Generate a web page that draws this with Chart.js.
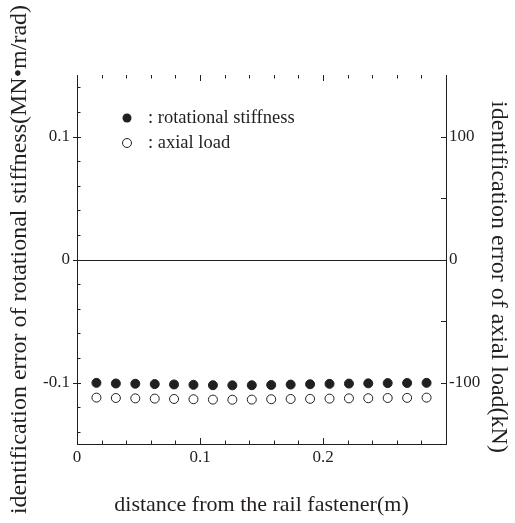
<!DOCTYPE html>
<html>
<head>
<meta charset="utf-8">
<script src="https://cdn.jsdelivr.net/npm/chart.js@4"></script>
<style>
  html, body { margin: 0; padding: 0; background: #fff; }
  #wrap { width: 515px; height: 523px; }
</style>
</head>
<body>
<div id="wrap"><canvas id="chart"></canvas></div>
<script>
// distance from the rail fastener (m)
const distances = [0.0158, 0.0316, 0.0474, 0.0632, 0.0789, 0.0947, 0.1105, 0.1263, 0.1421,
                   0.1579, 0.1737, 0.1895, 0.2053, 0.2211, 0.2368, 0.2526, 0.2684, 0.2842];
// identification error of rotational stiffness (MN·m/rad)
const stiffnessError = [-0.1003, -0.1008, -0.1010, -0.1013, -0.1016, -0.1019, -0.1022, -0.1023, -0.1022,
                        -0.1020, -0.1017, -0.1014, -0.1011, -0.1009, -0.1007, -0.1005, -0.1004, -0.1003];
// identification error of axial load (kN)
const axialLoadError = [-112.3, -112.6, -112.9, -113.1, -113.4, -113.6, -113.9, -114.0, -113.9,
                        -113.6, -113.4, -113.3, -113.1, -112.9, -112.8, -112.6, -112.5, -112.3];

const xTickValues = [0, 0.1, 0.2];
const yTickValues = [-0.1, 0, 0.1];
const y2TickValues = [-100, 0, 100];

const ink = "#231f20";
const serif = "'Liberation Serif', 'DejaVu Serif', serif";
const rightTitle = "identification error of axial load(kN)";

// inward tick marks, zero line, legend and the right-hand title
const frame = {
  id: "frame",
  afterDatasetsDraw(chart) {
    const c = chart.ctx;
    const a = chart.chartArea;
    const { x, y, y2 } = chart.scales;
    c.save();
    c.strokeStyle = ink;
    c.lineWidth = 1;

    c.beginPath();
    const y0 = Math.round(y.getPixelForValue(0)) + 0.5;
    c.moveTo(a.left, y0);
    c.lineTo(a.right, y0);

    for (let i = 1; i < 15; i++) {
      const px = Math.round(x.getPixelForValue(i * 0.02)) + 0.5;
      const len = i % 5 === 0 ? 6 : 3.5;
      c.moveTo(px, a.bottom); c.lineTo(px, a.bottom - len);
      c.moveTo(px, a.top); c.lineTo(px, a.top + len);
    }
    for (let i = -7; i <= 7; i++) {
      const py = Math.round(y.getPixelForValue(i * 0.02)) + 0.5;
      if (i % 5 === 0) { c.moveTo(a.left - 4, py); c.lineTo(a.left + 4, py); }
      else { c.moveTo(a.left, py); c.lineTo(a.left + 3.5, py); }
    }
    for (let i = -2; i <= 2; i++) {
      const py = Math.round(y2.getPixelForValue(i * 50)) + 0.5;
      c.moveTo(a.right, py); c.lineTo(a.right - 5, py);
    }
    c.stroke();

    // legend
    const lx = a.left + 50, ly = a.top + 43;
    c.fillStyle = ink;
    c.beginPath(); c.arc(lx, ly, 4.5, 0, Math.PI * 2); c.fill();
    c.beginPath(); c.arc(lx, ly + 25, 4.5, 0, Math.PI * 2); c.stroke();
    c.font = "18.5px " + serif;
    c.textBaseline = "middle";
    c.fillText(": rotational stiffness", lx + 21, ly);
    c.fillText(": axial load", lx + 21, ly + 25);

    // right axis title, a little below the middle as in the original
    c.translate(498, 277);
    c.rotate(Math.PI / 2);
    c.font = "24px " + serif;
    c.textAlign = "center";
    c.fillText(rightTitle, 0, 0);
    c.restore();
  }
};

new Chart(document.getElementById("chart"), {
  type: "scatter",
  data: {
    datasets: [
      {
        label: "rotational stiffness",
        data: distances.map((d, i) => ({ x: d, y: stiffnessError[i] })),
        yAxisID: "y",
        pointRadius: 4.5,
        pointBackgroundColor: ink,
        pointBorderColor: ink,
        pointBorderWidth: 1,
      },
      {
        label: "axial load",
        data: distances.map((d, i) => ({ x: d, y: axialLoadError[i] })),
        yAxisID: "y2",
        pointRadius: 4.5,
        pointBackgroundColor: "#fff",
        pointBorderColor: ink,
        pointBorderWidth: 1,
      },
    ],
  },
  options: {
    responsive: true,
    maintainAspectRatio: false,
    animation: false,
    layout: { padding: { top: 75, left: 0, right: 0, bottom: 0 } },
    plugins: { legend: { display: false }, tooltip: { enabled: false } },
    scales: {
      x: {
        type: "linear",
        min: 0,
        max: 0.3,
        afterBuildTicks: s => { s.ticks = xTickValues.map(v => ({ value: v })); },
        afterFit: s => { s.height = 79; },
        grid: { display: false, drawTicks: false },
        border: { display: true, color: ink, width: 1 },
        ticks: { color: ink, font: { family: serif, size: 17 }, padding: 3, callback: v => String(v) },
        title: { display: true, text: "distance from the rail fastener(m)", color: ink,
                 font: { family: serif, size: 22 }, padding: { top: 0, bottom: 5 } },
      },
      y: {
        position: "left",
        min: -0.15,
        max: 0.15,
        afterBuildTicks: s => { s.ticks = yTickValues.map(v => ({ value: v })); },
        afterFit: s => { s.width = 77; },
        grid: { display: false, drawTicks: false },
        border: { display: true, color: ink, width: 1 },
        ticks: { color: ink, font: { family: serif, size: 17 }, padding: 7, callback: v => String(v) },
        title: { display: true, text: "identification error of rotational stiffness(MN•m/rad)", color: ink,
                 font: { family: serif, size: 24 }, padding: { top: 5, bottom: 0 } },
      },
      y2: {
        position: "right",
        min: -150,
        max: 150,
        afterBuildTicks: s => { s.ticks = y2TickValues.map(v => ({ value: v })); },
        afterFit: s => { s.width = 69; },
        grid: { display: false, drawTicks: false },
        border: { display: true, color: ink, width: 1 },
        ticks: { color: ink, font: { family: serif, size: 17 }, padding: 3, callback: v => String(v) },
      },
    },
  },
  plugins: [frame],
});
</script>
</body>
</html>
